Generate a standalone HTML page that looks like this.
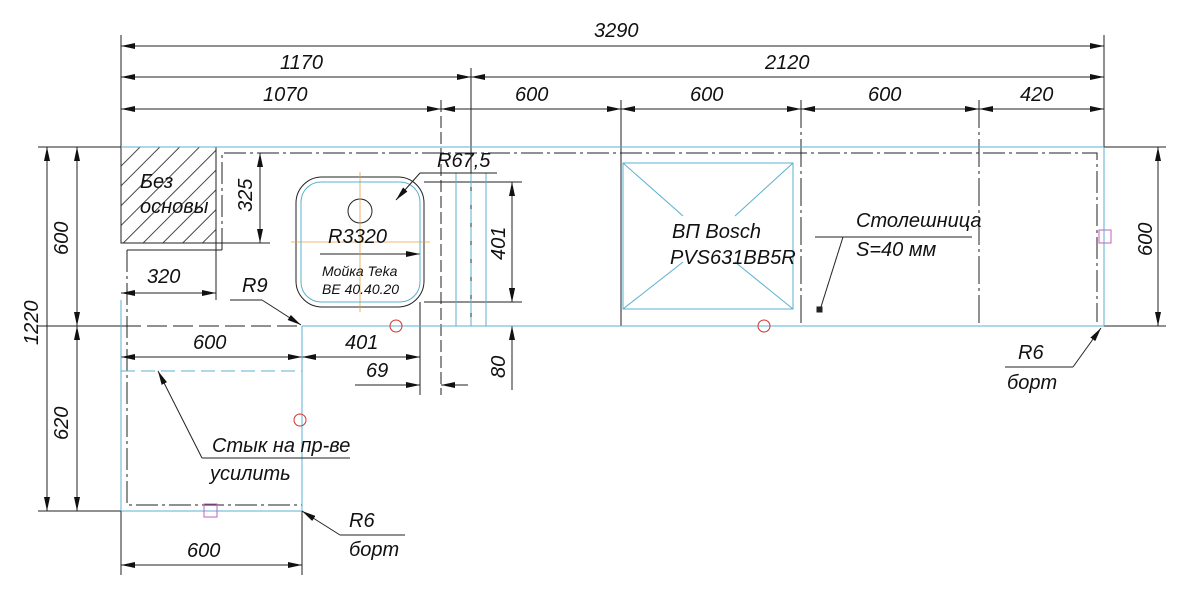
<!DOCTYPE html>
<html><head><meta charset="utf-8"><style>
html,body{margin:0;padding:0;background:#fff;width:1200px;height:596px;overflow:hidden}
text{font-family:"Liberation Sans Narrow","Liberation Sans",sans-serif;font-style:italic;fill:#111}
</style></head><body>
<svg width="1200" height="596" viewBox="0 0 1200 596" xmlns="http://www.w3.org/2000/svg">
<defs>
<marker id="a" viewBox="0 0 14 6" refX="14" refY="3" markerWidth="14" markerHeight="6" orient="auto-start-reverse" markerUnits="userSpaceOnUse"><path d="M0,0 L14,3 L0,6 Z" fill="#111"/></marker>
<pattern id="h" width="14" height="14" patternUnits="userSpaceOnUse" patternTransform="rotate(45)"><line x1="0" y1="0" x2="0" y2="14" stroke="#333" stroke-width="0.9" transform="translate(7,0)"/></pattern>
</defs>
<g stroke="#222" stroke-width="1" fill="none">
<line x1="121" y1="35" x2="121" y2="147"/>
<line x1="1104" y1="35" x2="1104" y2="147"/>
<line x1="471" y1="68" x2="471" y2="326"/>
<line x1="441" y1="100" x2="441" y2="395" stroke-dasharray="12,4"/>
<line x1="621" y1="100" x2="621" y2="326"/>
<line x1="801" y1="100" x2="801" y2="326" stroke-dasharray="28,4,3,4"/>
<line x1="979" y1="100" x2="979" y2="326" stroke-dasharray="28,4,3,4"/>
<line x1="121" y1="46" x2="1104" y2="46" marker-start="url(#a)" marker-end="url(#a)"/>
<line x1="121" y1="77" x2="471" y2="77" marker-start="url(#a)" marker-end="url(#a)"/>
<line x1="471" y1="77" x2="1104" y2="77" marker-start="url(#a)" marker-end="url(#a)"/>
<line x1="121" y1="109" x2="441" y2="109" marker-start="url(#a)" marker-end="url(#a)"/>
<line x1="441" y1="109" x2="621" y2="109" marker-start="url(#a)" marker-end="url(#a)"/>
<line x1="621" y1="109" x2="801" y2="109" marker-start="url(#a)" marker-end="url(#a)"/>
<line x1="801" y1="109" x2="979" y2="109" marker-start="url(#a)" marker-end="url(#a)"/>
<line x1="979" y1="109" x2="1104" y2="109" marker-start="url(#a)" marker-end="url(#a)"/>
<line x1="38" y1="147" x2="121" y2="147"/>
<line x1="38" y1="326" x2="121" y2="326"/>
<line x1="38" y1="511" x2="121" y2="511"/>
<line x1="47" y1="147" x2="47" y2="511" marker-start="url(#a)" marker-end="url(#a)"/>
<line x1="77" y1="147" x2="77" y2="326" marker-start="url(#a)" marker-end="url(#a)"/>
<line x1="77" y1="326" x2="77" y2="511" marker-start="url(#a)" marker-end="url(#a)"/>
<line x1="1104" y1="147" x2="1166" y2="147"/>
<line x1="1104" y1="326" x2="1166" y2="326"/>
<line x1="1158" y1="147" x2="1158" y2="326" marker-start="url(#a)" marker-end="url(#a)"/>
<line x1="121" y1="511" x2="121" y2="575"/>
<line x1="302" y1="511" x2="302" y2="575"/>
<line x1="121" y1="565" x2="302" y2="565" marker-start="url(#a)" marker-end="url(#a)"/>
<rect x="121" y="147" width="95" height="96" fill="url(#h)"/>
<line x1="216" y1="147" x2="216" y2="300"/>
<line x1="121" y1="243" x2="270" y2="243"/>
<polyline points="222,250 222,153 1097,153 1097,322" stroke-dasharray="22,4,3,4"/>
<polyline points="127,250 222,250" />
<polyline points="127,250 127,505 302,505" stroke-dasharray="22,4,3,4"/>
<line x1="121" y1="326" x2="302" y2="326" stroke-dasharray="20,6"/>
<line x1="260" y1="153" x2="260" y2="243" marker-start="url(#a)" marker-end="url(#a)"/>
<line x1="121" y1="293" x2="216" y2="293" marker-start="url(#a)" marker-end="url(#a)"/>
<line x1="121" y1="357" x2="302" y2="357" marker-start="url(#a)" marker-end="url(#a)"/>
<line x1="302" y1="357" x2="420" y2="357" marker-start="url(#a)" marker-end="url(#a)"/>
<line x1="420" y1="302" x2="420" y2="395"/>
<line x1="355" y1="385" x2="420" y2="385" marker-end="url(#a)"/>
<line x1="468" y1="385" x2="441" y2="385" marker-end="url(#a)"/>
<line x1="424" y1="182" x2="522" y2="182"/>
<line x1="424" y1="302" x2="522" y2="302"/>
<line x1="326" y1="326" x2="522" y2="326"/>
<line x1="512" y1="182" x2="512" y2="302" marker-start="url(#a)" marker-end="url(#a)"/>
<line x1="512" y1="280" x2="512" y2="302" marker-end="url(#a)"/>
<line x1="512" y1="390" x2="512" y2="326" marker-end="url(#a)"/>
<rect x="296" y="177" width="128" height="130" rx="26"/>
<circle cx="360" cy="211" r="12"/>
<line x1="320" y1="254" x2="420" y2="254" marker-end="url(#a)"/>
</g>
<g stroke="#e8a040" stroke-width="0.8">
<line x1="291" y1="242" x2="430" y2="242"/>
<line x1="360" y1="172" x2="360" y2="312"/>
</g>
<g stroke="#5ab0d0" stroke-width="1" fill="none">
<line x1="121" y1="147" x2="1104" y2="147"/>
<line x1="1104" y1="147" x2="1104" y2="326"/>
<line x1="302" y1="326" x2="1104" y2="326"/>
<line x1="121" y1="300" x2="121" y2="511"/>
<line x1="121" y1="511" x2="302" y2="511"/>
<line x1="302" y1="326" x2="302" y2="511"/>
<line x1="121" y1="371" x2="302" y2="371" stroke-dasharray="14,6"/>
<rect x="301" y="182" width="119" height="120" rx="20"/>
<line x1="456" y1="173" x2="456" y2="326"/>
<line x1="471" y1="173" x2="471" y2="326" stroke-dasharray="14,4"/>
<line x1="486" y1="173" x2="486" y2="326"/>
<rect x="623" y="163" width="170" height="146"/>
<line x1="623" y1="163" x2="683" y2="216"/><line x1="793" y1="163" x2="735" y2="216"/>
<line x1="623" y1="309" x2="683" y2="262"/><line x1="793" y1="309" x2="735" y2="262"/>
</g>
<g stroke="#222" stroke-width="1" fill="none">
<line x1="420" y1="173" x2="497" y2="173"/>
<line x1="420" y1="173" x2="396" y2="200" marker-end="url(#a)"/>
<line x1="230" y1="300" x2="262" y2="300"/>
<line x1="262" y1="300" x2="301" y2="325" marker-end="url(#a)"/>
<line x1="815" y1="237" x2="972" y2="237"/>
<line x1="843" y1="237" x2="820" y2="310"/>
<rect x="817" y="307" width="5" height="5" fill="#222"/>
<line x1="1005" y1="367" x2="1073" y2="367"/>
<line x1="1073" y1="367" x2="1101" y2="328" marker-end="url(#a)"/>
<line x1="340" y1="535" x2="405" y2="535"/>
<line x1="340" y1="535" x2="302" y2="511" marker-end="url(#a)"/>
<line x1="202" y1="458" x2="350" y2="458"/>
<line x1="202" y1="458" x2="158" y2="371" marker-end="url(#a)"/>
</g>
<g stroke="#d03030" fill="none"><circle cx="396" cy="326" r="6"/><circle cx="764" cy="326" r="6"/><circle cx="300" cy="420" r="6"/></g>
<g stroke="#c060c0" fill="none"><rect x="1099" y="230" width="12" height="13"/><rect x="204" y="504" width="13" height="13"/></g>
<g font-size="20">
<text x="594" y="37">3290</text>
<text x="280" y="69">1170</text>
<text x="765" y="69">2120</text>
<text x="263" y="101">1070</text>
<text x="515" y="101">600</text>
<text x="690" y="101">600</text>
<text x="868" y="101">600</text>
<text x="1020" y="101">420</text>
<text x="437" y="167">R67,5</text>
<text x="328" y="243">R3320</text>
<text x="147" y="283">320</text>
<text x="242" y="292">R9</text>
<text x="193" y="349">600</text>
<text x="345" y="349">401</text>
<text x="366" y="377">69</text>
<text x="187" y="557">600</text>
<text x="672" y="238">ВП Bosch</text>
<text x="670" y="264">PVS631BB5R</text>
<text x="856" y="227">Столешница</text>
<text x="856" y="256">S=40 мм</text>
<text x="1018" y="359">R6</text>
<text x="1007" y="389">борт</text>
<text x="349" y="527">R6</text>
<text x="349" y="556">борт</text>
<text x="212" y="452">Стык на пр-ве</text>
<text x="210" y="480">усилить</text>
<text x="140" y="188">Без</text>
<text x="140" y="213">основы</text>
<text transform="translate(68,255) rotate(-90)">600</text>
<text transform="translate(38,345) rotate(-90)">1220</text>
<text transform="translate(68,440) rotate(-90)">620</text>
<text transform="translate(1152,256) rotate(-90)">600</text>
<text transform="translate(252,212) rotate(-90)">325</text>
<text transform="translate(505,260) rotate(-90)">401</text>
<text transform="translate(505,378) rotate(-90)">80</text>
</g>
<g font-size="14"><text x="322" y="276">Мойка Teka</text><text x="322" y="294">BE 40.40.20</text></g>
</svg>
</body></html>
